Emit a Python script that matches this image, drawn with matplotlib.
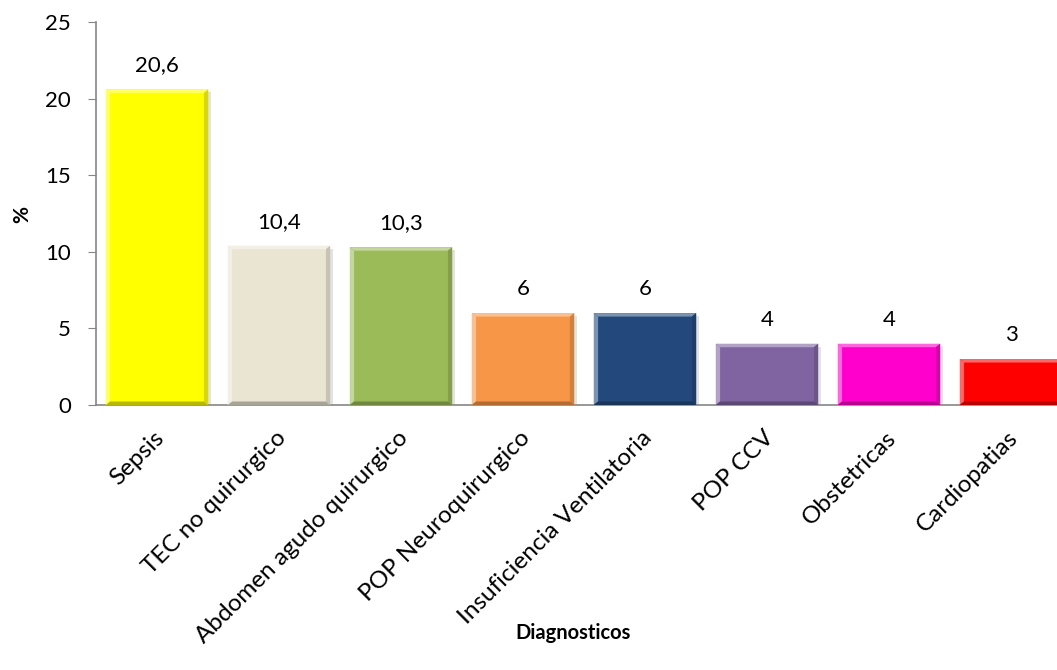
import matplotlib
matplotlib.use("Agg")
import matplotlib.pyplot as plt
from matplotlib.patches import Polygon
import matplotlib.colors as mcolors
import matplotlib.transforms as mtransforms

categories = ["Sepsis", "TEC no quirurgico", "Abdomen agudo quirurgico",
              "POP Neuroquirurgico", "Insuficiencia Ventilatoria", "POP CCV",
              "Obstetricas", "Cardiopatias"]
values = [20.6, 10.4, 10.3, 6, 6, 4, 4, 3]
labels = ["20,6", "10,4", "10,3", "6", "6", "4", "4", "3"]
colors = ["#FFFF00", "#EAE5D3", "#9BBB59", "#F79646", "#23497C", "#8064A2",
          "#FF00CC", "#FF0000"]
yticks = [0, 5, 10, 15, 20, 25]

plt.rcParams['font.family'] = ['Lato', 'DejaVu Sans']
FS = 16

W, H = 1057, 670
fig = plt.figure(figsize=(W / 100, H / 100), dpi=100)
left = 96 / W
right = 1072 / W
bottom = 1 - 405 / H
top = 1 - 22 / H
ax = fig.add_axes([left, bottom, right - left, top - bottom])

x = list(range(len(categories)))
bars = ax.bar(x, values, width=0.84, color=colors, zorder=3,
              edgecolor="none")

# soft shadow
for b, c in zip(bars, colors):
    ax.bar(b.get_x() + b.get_width() / 2 + 0.025, b.get_height(), width=b.get_width(),
           bottom=-0.2, color="#c8c8c8", alpha=0.5, zorder=2)

# bevel edges
fig.canvas.draw()
bev = 4  # pixels
inv = ax.transData.inverted()
for b, c in zip(bars, colors):
    x0, y0 = b.get_x(), 0
    x1, y1 = b.get_x() + b.get_width(), b.get_height()
    (px0, py0) = ax.transData.transform((x0, y0))
    (px1, py1) = ax.transData.transform((x1, y1))
    rgb = mcolors.to_rgb(c)
    light = tuple(min(1, v + (1 - v) * 0.4) for v in rgb)
    dark = tuple(v * 0.72 for v in rgb)
    mid_dark = tuple(v * 0.85 for v in rgb)
    def poly(pts, col):
        data = [inv.transform(p) for p in pts]
        ax.add_patch(Polygon(data, closed=True, color=col, zorder=4, lw=0))
    poly([(px0, py1), (px1, py1), (px1 - bev, py1 - bev), (px0 + bev, py1 - bev)], light)
    poly([(px0, py0), (px0, py1), (px0 + bev, py1 - bev), (px0 + bev, py0 + bev)], light)
    poly([(px1, py0), (px1, py1), (px1 - bev, py1 - bev), (px1 - bev, py0 + bev)], mid_dark)
    poly([(px0, py0), (px1, py0), (px1 - bev, py0 + bev), (px0 + bev, py0 + bev)], dark)

for b, lab in zip(bars, labels):
    ax.annotate(lab, (b.get_x() + b.get_width() / 2, b.get_height()),
                xytext=(0, 10), textcoords="offset points", ha="center",
                va="bottom", fontsize=FS, color="#000000")

ax.set_xlim(-0.5, len(categories) - 0.5)
ax.set_ylim(0, 25)
ax.set_yticks(yticks)
ax.set_yticklabels([str(t) for t in yticks], fontsize=FS)
ax.set_xticks(x)
ax.set_xticklabels(categories, rotation=45, ha="right", rotation_mode="anchor",
                   fontsize=17.5)
ax.tick_params(axis="x", length=0, pad=16)
ax.tick_params(axis="y", length=6, color="#868686", pad=12)
shift = mtransforms.ScaledTranslation(-4 / 100, 0, fig.dpi_scale_trans)
for t in ax.get_xticklabels():
    t.set_transform(t.get_transform() + shift)
for s in ["top", "right"]:
    ax.spines[s].set_visible(False)
for s in ["left", "bottom"]:
    ax.spines[s].set_color("#868686")
    ax.spines[s].set_linewidth(1.2)

fig.text(22 / W, 1 - 215 / H, "%", rotation=90, ha="center", va="center",
         fontsize=15, fontweight="bold")
fig.text(573 / W, 1 - 633 / H, "Diagnosticos", ha="center", va="center",
         fontsize=14.5, fontweight="bold")

fig.savefig("out.png", dpi=100)
